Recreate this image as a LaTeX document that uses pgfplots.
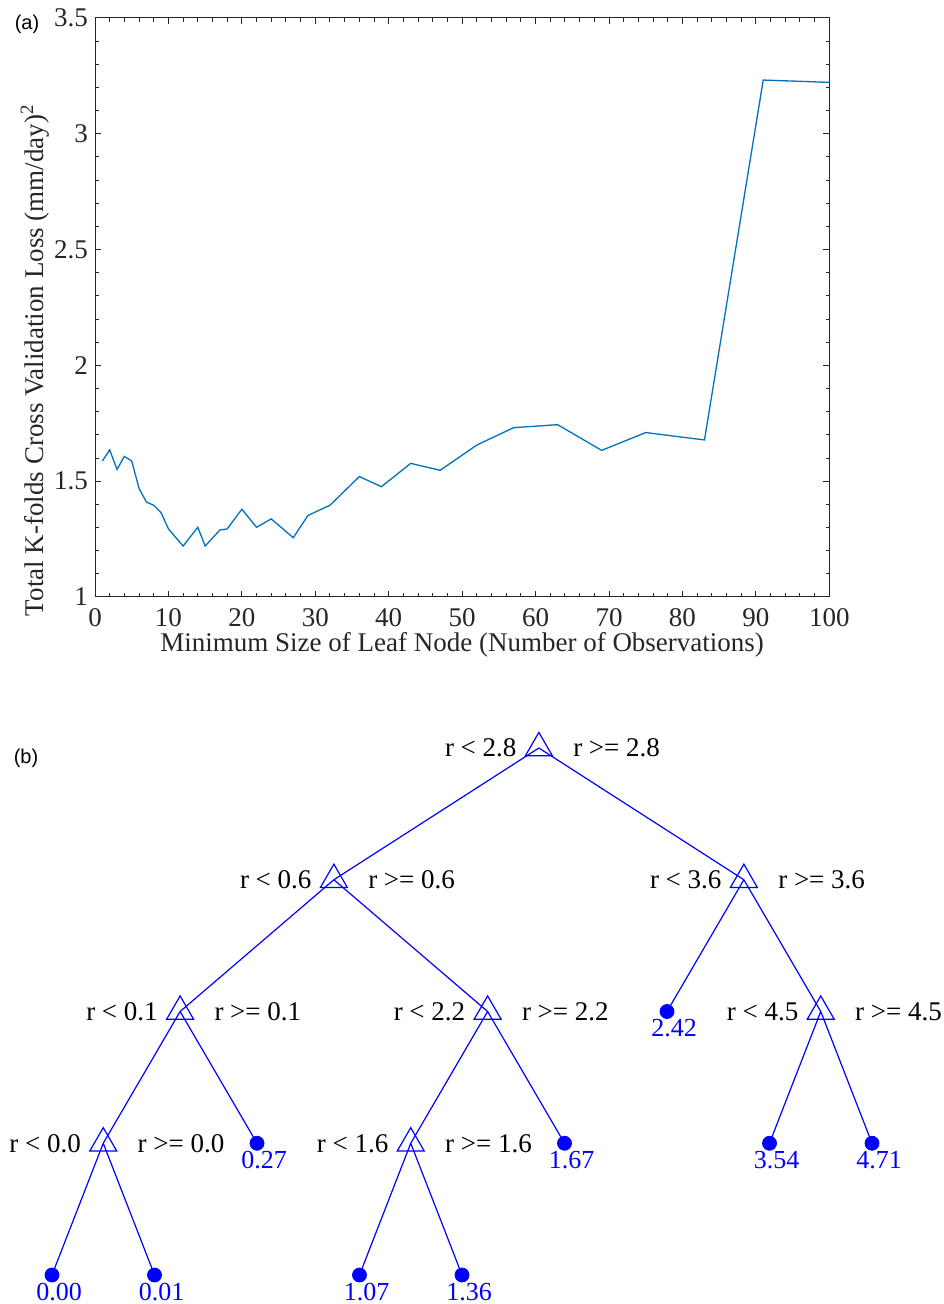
\documentclass[border=0pt]{standalone}
\usepackage{pgfplots}
\pgfplotsset{compat=1.18}
\usepackage{pgfplotstable}
\usepackage{fontspec}
\setmainfont{Liberation Serif}
\newfontfamily\arialfont{Liberation Sans}
\definecolor{mblue}{rgb}{0,0.447,0.741}
\definecolor{axgray}{rgb}{0.15,0.15,0.15}
\newcommand\lbl{\fontsize{13.5}{16}\selectfont}
\newcommand\tlbl{\fontsize{13}{15}\selectfont}

\pgfplotstableread{
x y
1 1.587
2 1.635
3 1.551
4 1.607
5 1.587
6 1.469
7 1.410
8 1.396
9 1.364
10 1.294
12 1.220
14 1.301
15 1.220
17 1.289
18 1.294
20 1.379
22 1.301
24 1.337
27 1.256
29 1.352
32 1.396
36 1.520
39 1.476
43 1.577
47 1.547
52 1.656
57 1.731
63 1.744
69 1.633
75 1.710
83 1.678
91 3.232
100 3.222
}\losstable

% tree edges: x = leaf-order position, d = depth
\pgfplotstableread{
x d
5.75 0
3.75 1
nan nan
5.75 0
7.75 1
nan nan
3.75 1
2.25 2
nan nan
3.75 1
5.25 2
nan nan
7.75 1
7 2
nan nan
7.75 1
8.5 2
nan nan
2.25 2
1.5 3
nan nan
2.25 2
3 3
nan nan
5.25 2
4.5 3
nan nan
5.25 2
6 3
nan nan
8.5 2
8 3
nan nan
8.5 2
9 3
nan nan
1.5 3
1 4
nan nan
1.5 3
2 4
nan nan
4.5 3
4 4
nan nan
4.5 3
5 4
}\edgetable

\pgfplotstableread{
x d left right
5.75 0 {r < 2.8} {r >= 2.8}
3.75 1 {r < 0.6} {r >= 0.6}
7.75 1 {r < 3.6} {r >= 3.6}
2.25 2 {r < 0.1} {r >= 0.1}
5.25 2 {r < 2.2} {r >= 2.2}
8.5 2 {r < 4.5} {r >= 4.5}
1.5 3 {r < 0.0} {r >= 0.0}
4.5 3 {r < 1.6} {r >= 1.6}
}\splittable

\pgfplotstableread{
x d val
7 2 2.42
3 3 0.27
6 3 1.67
8 3 3.54
9 3 4.71
1 4 0.00
2 4 0.01
4 4 1.07
5 4 1.36
}\leaftable

\begin{document}
\begin{tikzpicture}
\path[use as bounding box] (0,0) rectangle (471.5pt,652pt);

\begin{axis}[
  at={(47.5pt,353.5pt)}, anchor=south west,
  scale only axis, width=367.15pt, height=289.5pt,
  xmin=0, xmax=100, ymin=1, ymax=3.5,
  xtick={0,10,20,30,40,50,60,70,80,90,100},
  ytick={1,1.5,2,2.5,3,3.5},
  minor x tick num=4, minor y tick num=4,
  tick align=inside,
  major tick length=3pt, minor tick length=1.8pt,
  axis line style={axgray, line width=0.5pt},
  every tick/.style={axgray, line width=0.5pt},
  ticklabel style={font=\lbl, text=axgray},
  xticklabel style={yshift=-4.8pt, inner sep=1pt},
  /pgf/number format/assume math mode=true,
  xlabel={Minimum Size of Leaf Node (Number of Observations)},
  ylabel={Total K-folds Cross Validation Loss (mm/day)\textsuperscript{2}},
  xlabel style={at={(axis description cs:0.5,0)}, anchor=base, inner sep=0pt, yshift=-27.5pt, font=\lbl, text=axgray},
  ylabel style={at={(axis description cs:0,0.409)}, anchor=center, yshift=30pt, font=\lbl, text=axgray},
]
\addplot[mblue, line width=0.65pt, mark=none] table[x=x, y=y] {\losstable};
\end{axis}

\begin{axis}[
  at={(0pt,0pt)}, anchor=south west,
  scale only axis, width=471.5pt, height=302pt,
  xmin=0.49268, xmax=9.69268, ymin=-0.36433, ymax=4.22011,
  y dir=reverse, hide axis, clip=false,
  unbounded coords=jump,
]
\addplot[blue, line width=0.6pt, mark=none] table[x=x, y=d] {\edgetable};
\addplot[only marks, mark=triangle, mark size=7.8pt, mark options={blue, line width=0.6pt},
  nodes near coords, point meta=explicit symbolic,
  every node near coord/.append style={anchor=east, xshift=-10.9pt, inner sep=0pt, font=\lbl, text=black}]
  table[x=x, y=d, meta=left] {\splittable};
\addplot[only marks, mark=none, draw=none,
  nodes near coords, point meta=explicit symbolic,
  every node near coord/.append style={anchor=west, xshift=17pt, inner sep=0pt, font=\lbl, text=black}]
  table[x=x, y=d, meta=right] {\splittable};
\addplot[only marks, mark=*, mark size=3.5pt, mark options={blue, fill=blue},
  nodes near coords, point meta=explicit symbolic,
  every node near coord/.append style={anchor=north, xshift=3.5pt, yshift=-3.8pt, inner sep=0pt, font=\tlbl, text=blue}]
  table[x=x, y=d, meta=val] {\leaftable};
\end{axis}

\node[font=\arialfont\fontsize{10}{12}\selectfont, inner sep=0pt] at (13.5pt,640pt) {(a)};
\node[font=\arialfont\fontsize{10}{12}\selectfont, inner sep=0pt] at (13pt,273pt) {(b)};
\end{tikzpicture}
\end{document}
